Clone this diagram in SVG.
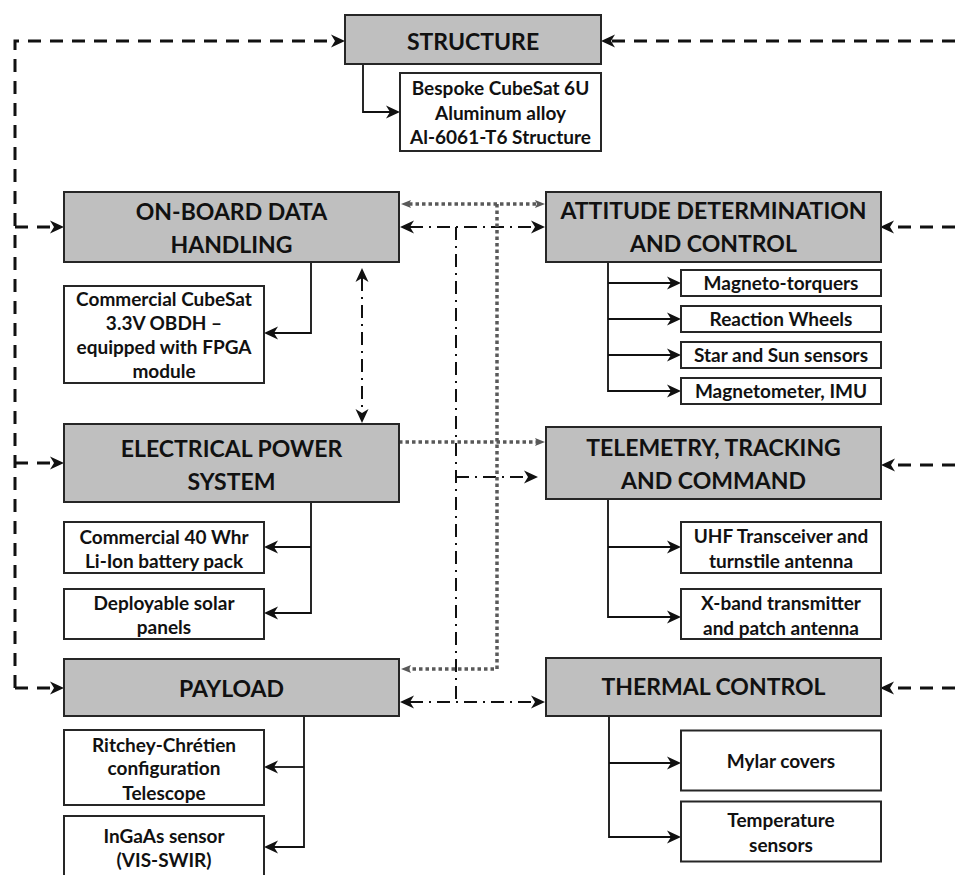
<svg xmlns="http://www.w3.org/2000/svg" width="955" height="875" viewBox="0 0 955 875">
  <style>
    .main { fill: #bfbfbf; stroke: #262626; stroke-width: 2; }
    .sub { fill: #ffffff; stroke: #262626; stroke-width: 2; }
    .title { font-family: Lato, "Liberation Sans", sans-serif; font-weight: bold; font-size: 23px; fill: #111; text-anchor: middle; }
    .label { font-family: Lato, "Liberation Sans", sans-serif; font-weight: bold; font-size: 19px; fill: #111; text-anchor: middle; }
    .solid { fill: none; stroke: #111; stroke-width: 1.8; }
    .dashed { fill: none; stroke: #111; stroke-width: 3; stroke-dasharray: 13 9; }
    .dashdot { fill: none; stroke: #111; stroke-width: 2; stroke-dasharray: 13 6 2 6; }
    .dotted { fill: none; stroke: #595959; stroke-width: 3.5; stroke-dasharray: 3.5 3; }
  </style>
  <defs>
    <marker id="arrow" viewBox="0 0 14 14" refX="4" refY="7" markerWidth="14" markerHeight="14" markerUnits="userSpaceOnUse" orient="auto-start-reverse">
      <path d="M0,0.5 L14,7 L0,13.5 L4,7 Z" fill="#111"/>
    </marker>
    <marker id="arrow-gray" viewBox="0 0 10 10" refX="2" refY="5" markerWidth="10" markerHeight="10" markerUnits="userSpaceOnUse" orient="auto-start-reverse">
      <path d="M0,1 L10,5 L0,9 L2,5 Z" fill="#595959"/>
    </marker>
  </defs>

  <!-- connectors -->
  <g id="connectors">
    <!-- structural links (thick dashed) -->
    <path class="dashed" d="M15,688 V41 H335" marker-end="url(#arrow)"/>
    <path class="dashed" d="M15,227 H54" marker-end="url(#arrow)"/>
    <path class="dashed" d="M15,463 H54" marker-end="url(#arrow)"/>
    <path class="dashed" d="M15,688 H54" marker-end="url(#arrow)"/>
    <path class="dashed" d="M955,41 H611" marker-end="url(#arrow)"/>
    <path class="dashed" d="M955,227 H890" marker-end="url(#arrow)"/>
    <path class="dashed" d="M955,465 H891" marker-end="url(#arrow)"/>
    <path class="dashed" d="M955,688 H890" marker-end="url(#arrow)"/>

    <!-- data links (dash-dot) -->
    <path class="dashdot" d="M362,278 V413" marker-start="url(#arrow)" marker-end="url(#arrow)"/>
    <path class="dashdot" d="M410,227 H535" marker-start="url(#arrow)" marker-end="url(#arrow)"/>
    <path class="dashdot" d="M456,227 V702"/>
    <path class="dashdot" d="M456,477 H528" marker-end="url(#arrow)"/>
    <path class="dashdot" d="M410,702 H535" marker-start="url(#arrow)" marker-end="url(#arrow)"/>

    <!-- power links (gray dotted) -->
    <path class="dotted" d="M409,204 H537" marker-start="url(#arrow-gray)" marker-end="url(#arrow-gray)"/>
    <path class="dotted" d="M497,204 V669 H409" marker-end="url(#arrow-gray)"/>
    <path class="dotted" d="M399,442 H537" marker-end="url(#arrow-gray)"/>

    <!-- subsystem breakdown (solid) -->
    <path class="solid" d="M363,64 V112 H390" marker-end="url(#arrow)"/>
    <path class="solid" d="M311,262 V333 H274" marker-end="url(#arrow)"/>
    <path class="solid" d="M311,502 V613 H274" marker-end="url(#arrow)"/>
    <path class="solid" d="M311,547 H274" marker-end="url(#arrow)"/>
    <path class="solid" d="M304,716 V847 H274" marker-end="url(#arrow)"/>
    <path class="solid" d="M304,767 H274" marker-end="url(#arrow)"/>
    <path class="solid" d="M608,262 V391 H671" marker-end="url(#arrow)"/>
    <path class="solid" d="M608,283 H671" marker-end="url(#arrow)"/>
    <path class="solid" d="M608,319 H671" marker-end="url(#arrow)"/>
    <path class="solid" d="M608,355 H671" marker-end="url(#arrow)"/>
    <path class="solid" d="M608,499 V617 H671" marker-end="url(#arrow)"/>
    <path class="solid" d="M608,547 H671" marker-end="url(#arrow)"/>
    <path class="solid" d="M609,716 V837 H671" marker-end="url(#arrow)"/>
    <path class="solid" d="M609,763 H671" marker-end="url(#arrow)"/>
  </g>

  <!-- structure -->
  <g id="structure">
    <rect class="main" x="345" y="15" width="256" height="49"/>
    <text class="title" x="473" y="49.5">STRUCTURE</text>
  </g>
  <g id="structure-detail">
    <rect class="sub" x="400" y="73" width="201" height="78"/>
    <text class="label" x="500.5" y="95">Bespoke CubeSat 6U</text>
    <text class="label" x="500.5" y="119.5">Aluminum alloy</text>
    <text class="label" x="500.5" y="144">Al-6061-T6 Structure</text>
  </g>

  <!-- on-board data handling -->
  <g id="obdh">
    <rect class="main" x="64" y="192" width="335" height="70"/>
    <text class="title" x="231.5" y="220">ON-BOARD DATA</text>
    <text class="title" x="231.5" y="252.5">HANDLING</text>
  </g>
  <g id="obdh-detail">
    <rect class="sub" x="64" y="286" width="200" height="97"/>
    <text class="label" x="164" y="306">Commercial CubeSat</text>
    <text class="label" x="164" y="330">3.3V OBDH –</text>
    <text class="label" x="164" y="354">equipped with FPGA</text>
    <text class="label" x="164" y="378">module</text>
  </g>

  <!-- attitude determination and control -->
  <g id="adcs">
    <rect class="main" x="546" y="192" width="335" height="70"/>
    <text class="title" x="713.5" y="218.5">ATTITUDE DETERMINATION</text>
    <text class="title" x="713.5" y="251.5">AND CONTROL</text>
  </g>
  <g id="adcs-magnetorquers">
    <rect class="sub" x="681" y="270" width="200" height="26"/>
    <text class="label" x="781" y="290">Magneto-torquers</text>
  </g>
  <g id="adcs-wheels">
    <rect class="sub" x="681" y="306" width="200" height="26"/>
    <text class="label" x="781" y="326">Reaction Wheels</text>
  </g>
  <g id="adcs-sensors">
    <rect class="sub" x="681" y="342" width="200" height="26"/>
    <text class="label" x="781" y="362">Star and Sun sensors</text>
  </g>
  <g id="adcs-magnetometer">
    <rect class="sub" x="681" y="378" width="200" height="26"/>
    <text class="label" x="781" y="398">Magnetometer, IMU</text>
  </g>

  <!-- electrical power system -->
  <g id="eps">
    <rect class="main" x="64" y="424" width="335" height="78"/>
    <text class="title" x="231.5" y="456.5">ELECTRICAL POWER</text>
    <text class="title" x="231.5" y="490">SYSTEM</text>
  </g>
  <g id="eps-battery">
    <rect class="sub" x="64" y="522" width="200" height="51"/>
    <text class="label" x="164" y="544">Commercial 40 Whr</text>
    <text class="label" x="164" y="568">Li-Ion battery pack</text>
  </g>
  <g id="eps-solar">
    <rect class="sub" x="64" y="589" width="200" height="50"/>
    <text class="label" x="164" y="609.5">Deployable solar</text>
    <text class="label" x="164" y="634">panels</text>
  </g>

  <!-- telemetry, tracking and command -->
  <g id="ttc">
    <rect class="main" x="546" y="427" width="335" height="72"/>
    <text class="title" x="713.5" y="455.5">TELEMETRY, TRACKING</text>
    <text class="title" x="713.5" y="489">AND COMMAND</text>
  </g>
  <g id="ttc-uhf">
    <rect class="sub" x="681" y="522" width="200" height="51"/>
    <text class="label" x="781" y="542.5">UHF Transceiver and</text>
    <text class="label" x="781" y="567.5">turnstile antenna</text>
  </g>
  <g id="ttc-xband">
    <rect class="sub" x="681" y="589" width="200" height="50"/>
    <text class="label" x="781" y="609.5">X-band transmitter</text>
    <text class="label" x="781" y="634.5">and patch antenna</text>
  </g>

  <!-- payload -->
  <g id="payload">
    <rect class="main" x="64" y="659" width="335" height="57"/>
    <text class="title" x="231.5" y="697">PAYLOAD</text>
  </g>
  <g id="payload-telescope">
    <rect class="sub" x="64" y="730" width="200" height="75"/>
    <text class="label" x="164" y="751.5">Ritchey-Chrétien</text>
    <text class="label" x="164" y="775">configuration</text>
    <text class="label" x="164" y="799.5">Telescope</text>
  </g>
  <g id="payload-sensor">
    <rect class="sub" x="64" y="816" width="200" height="70"/>
    <text class="label" x="164" y="843">InGaAs sensor</text>
    <text class="label" x="164" y="866.5">(VIS-SWIR)</text>
  </g>

  <!-- thermal control -->
  <g id="thermal">
    <rect class="main" x="546" y="658" width="335" height="58"/>
    <text class="title" x="713.5" y="695">THERMAL CONTROL</text>
  </g>
  <g id="thermal-mylar">
    <rect class="sub" x="681" y="730.5" width="200" height="60"/>
    <text class="label" x="781" y="768">Mylar covers</text>
  </g>
  <g id="thermal-sensors">
    <rect class="sub" x="681" y="801.5" width="200" height="60"/>
    <text class="label" x="781" y="826.5">Temperature</text>
    <text class="label" x="781" y="851.5">sensors</text>
  </g>
</svg>
